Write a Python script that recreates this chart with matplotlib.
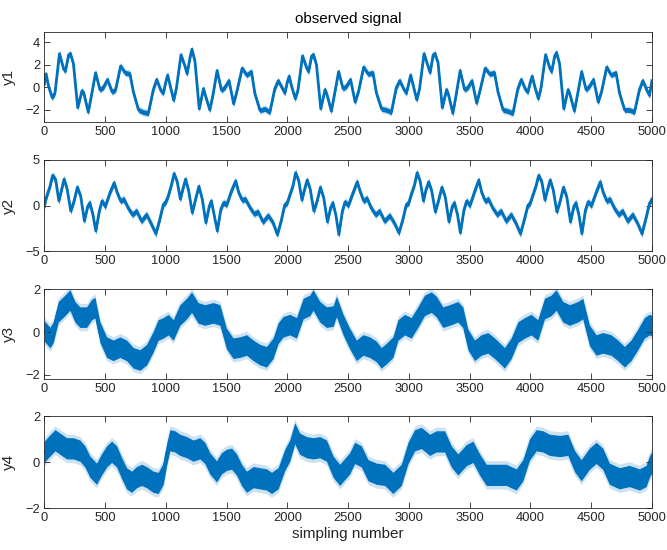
import matplotlib
matplotlib.use("Agg")
import matplotlib.pyplot as plt
import numpy as np

plt.rcParams['font.family'] = ['Liberation Sans', 'DejaVu Sans']

# sample index / value points
y1_t = [0, 15, 35, 65, 88, 125, 160, 175, 200, 215, 240, 275, 310, 325, 362, 390, 422, 458, 486, 520, 558, 587, 628, 665, 705, 733, 775, 815, 856, 897, 925, 960, 980,
        1000, 1015, 1035, 1065, 1088, 1125, 1160, 1175, 1200, 1215, 1240, 1275, 1310, 1325, 1362, 1390, 1422, 1458, 1486, 1520, 1558, 1587, 1628, 1665, 1705, 1733, 1775, 1815, 1856, 1897, 1925, 1960, 1980,
        2000, 2015, 2035, 2065, 2088, 2125, 2160, 2175, 2200, 2215, 2240, 2275, 2310, 2325, 2362, 2390, 2422, 2458, 2486, 2520, 2558, 2587, 2628, 2665, 2705, 2733, 2775, 2815, 2856, 2897, 2925, 2960, 2980,
        3000, 3015, 3035, 3065, 3088, 3125, 3160, 3175, 3200, 3215, 3240, 3275, 3310, 3325, 3362, 3390, 3422, 3458, 3486, 3520, 3558, 3587, 3628, 3665, 3705, 3733, 3775, 3815, 3856, 3897, 3925, 3960, 3980,
        4000, 4015, 4035, 4065, 4088, 4125, 4160, 4175, 4200, 4215, 4240, 4275, 4310, 4325, 4362, 4390, 4422, 4458, 4486, 4520, 4558, 4587, 4628, 4665, 4705, 4733, 4775, 4815, 4856, 4897, 4925, 4960, 4980, 5000]
y1_v = [0.3, 1.2, 0.1, -0.9, -0.5, 3.0, 1.6, 1.5, 2.9, 3.0, 2.1, -1.8, -0.3, -0.5, -2.2, -0.6, 1.3, -0.2, 0.0, 0.7, -0.4, -0.2, 1.9, 1.3, 1.2, -0.4, -2.0, -2.2, -2.3, -0.2, 0.7, -0.3, -0.5,
        0.5, 1.1, 0.2, -1.15, 0.0, 2.9, 1.8, 1.2, 2.7, 3.4, 2.3, -1.9, -0.1, -0.7, -2.0, -0.55, 1.5, -0.25, 0.0, 0.6, -1.45, -0.25, 1.7, 1.1, 1.4, -0.55, -2.05, -1.9, -2.2, -0.1, 0.6, -0.1, -0.5,
        0.5, 1.0, 0.1, -1.0, -0.2, 2.8, 1.7, 1.4, 2.8, 2.9, 2.0, -1.9, -0.2, -0.6, -2.1, -0.5, 1.4, -0.1, 0.1, 0.7, -1.3, -0.3, 1.8, 1.2, 1.3, -0.5, -1.9, -2.0, -2.2, 0.0, 0.6, -0.2, -0.5,
        0.4, 1.1, 0.2, -1.1, -0.1, 3.0, 1.8, 1.3, 2.9, 3.0, 2.2, -1.8, -0.2, -0.6, -2.3, -0.6, 1.5, -0.2, 0.0, 0.6, -1.4, -0.2, 1.7, 1.2, 1.3, -0.4, -2.0, -2.1, -2.3, -0.1, 0.7, -0.2, -0.4,
        0.5, 1.0, 0.1, -1.0, 0.0, 2.9, 1.7, 1.4, 2.8, 3.1, 2.1, -1.9, -0.2, -0.6, -2.1, -0.5, 1.4, -0.2, 0.1, 0.7, -1.3, -0.3, 1.8, 1.1, 1.3, -0.5, -2.0, -2.0, -2.2, -0.2, 0.6, -0.3, -0.7, 0.6]

y2_t = [0, 19, 47, 68, 94, 120, 140, 163, 188, 218, 245, 272, 300, 330, 357, 375, 400, 424, 453, 475, 502, 540, 575, 600, 628, 655, 691, 726, 759, 800, 842, 883, 918, 951, 979,
        1000, 1019, 1047, 1068, 1094, 1120, 1140, 1163, 1188, 1218, 1245, 1272, 1300, 1330, 1357, 1375, 1400, 1424, 1453, 1475, 1502, 1540, 1575, 1600, 1628, 1655, 1691, 1726, 1759, 1800, 1842, 1883, 1918, 1951, 1979,
        2000, 2019, 2047, 2068, 2094, 2120, 2140, 2163, 2188, 2218, 2245, 2272, 2300, 2330, 2357, 2375, 2400, 2424, 2453, 2475, 2502, 2540, 2575, 2600, 2628, 2655, 2691, 2726, 2759, 2800, 2842, 2883, 2918, 2951, 2979,
        3000, 3019, 3047, 3068, 3094, 3120, 3140, 3163, 3188, 3218, 3245, 3272, 3300, 3330, 3357, 3375, 3400, 3424, 3453, 3475, 3502, 3540, 3575, 3600, 3628, 3655, 3691, 3726, 3759, 3800, 3842, 3883, 3918, 3951, 3979,
        4000, 4019, 4047, 4068, 4094, 4120, 4140, 4163, 4188, 4218, 4245, 4272, 4300, 4330, 4357, 4375, 4400, 4424, 4453, 4475, 4502, 4540, 4575, 4600, 4628, 4655, 4691, 4726, 4759, 4800, 4842, 4883, 4918, 4951, 4979, 5000]
y2_v = [-0.1, 1.0, 2.1, 3.3, 2.8, 0.5, 1.6, 2.9, 1.8, -0.6, 0.5, 2.0, 1.0, -1.7, -0.1, 0.3, -1.0, -2.8, -0.6, 0.5, -0.1, 1.4, 2.5, 1.4, 0.5, 0.7, -0.3, -1.0, -0.6, -1.7, -1.0, -2.1, -3.1, -1.5, 0.1,
        0.4, 1.0, 2.3, 3.5, 2.6, 0.7, 1.8, 2.9, 1.6, -0.8, 0.7, 2.1, 0.7, -1.9, -0.1, 0.5, -1.2, -2.8, -0.4, 0.3, 0.1, 1.6, 2.7, 1.4, 0.6, 0.7, -0.2, -0.9, -0.7, -1.8, -1.1, -1.9, -3.2, -1.6, 0.1,
        0.3, 1.1, 2.2, 3.6, 2.7, 0.6, 1.7, 2.8, 1.8, -0.6, 0.5, 2.0, 0.8, -1.8, -0.2, 0.3, -1.1, -3.2, -0.6, 0.4, 0.0, 1.4, 2.6, 1.5, 0.5, 0.8, -0.3, -1.0, -0.6, -1.7, -1.1, -2.0, -3.0, -1.5, 0.1,
        0.3, 1.2, 2.3, 3.6, 2.6, 0.5, 1.7, 2.6, 1.6, -0.7, 0.6, 2.0, 0.9, -1.8, -0.1, 0.3, -1.0, -3.0, -0.5, 0.5, 0.0, 1.5, 2.8, 1.4, 0.5, 0.7, -0.3, -1.0, -0.6, -1.7, -1.0, -2.0, -3.1, -1.5, 0.0,
        0.3, 1.1, 2.2, 3.3, 2.6, 0.6, 1.7, 2.8, 1.7, -0.7, 0.5, 2.0, 0.9, -1.8, -0.1, 0.3, -1.1, -3.1, -0.5, 0.4, 0.0, 1.4, 2.6, 1.4, 0.5, 0.7, -0.3, -1.0, -0.6, -1.7, -1.0, -2.0, -3.1, -1.4, 0.2, 0.7]

y3_t = [0, 47, 74, 115, 170, 211, 252, 293, 348, 389, 417, 458, 513, 567, 622, 677, 732, 787, 842, 896, 937, 979,
        1020, 1061, 1116, 1171, 1212, 1266, 1321, 1390, 1445, 1499, 1554, 1609, 1664, 1719, 1774, 1828, 1883, 1924, 1965,
        2020, 2075, 2130, 2185, 2212, 2267, 2322, 2377, 2404, 2459, 2513, 2568, 2623, 2677, 2732, 2773, 2815, 2869, 2910, 2965,
        3019, 3074, 3129, 3184, 3225, 3280, 3335, 3403, 3444, 3486, 3541, 3595, 3650, 3705, 3760, 3787, 3842, 3897, 3952,
        4006, 4061, 4116, 4171, 4212, 4267, 4322, 4390, 4431, 4486, 4541, 4595, 4664, 4719, 4774, 4828, 4883, 4938, 4979, 5000]
y3_v = [0.05, -0.25, 0.0, 0.95, 1.25, 1.5, 0.95, 0.7, 0.7, 1.05, 1.15, 0.0, -0.7, -0.85, -0.7, -0.85, -1.2, -1.3, -1.05, -0.45, 0.1, 0.2,
        0.35, 0.1, 0.8, 1.1, 1.4, 0.9, 0.8, 0.9, 0.8, -0.3, -0.75, -0.7, -0.6, -0.85, -1.05, -1.15, -0.75, -0.05, 0.25,
        0.35, 0.2, 1.1, 1.25, 1.5, 0.95, 0.7, 0.75, 1.2, 0.35, -0.3, -0.85, -0.6, -0.7, -0.9, -1.2, -1.0, -0.7, 0.1, 0.35,
        0.2, 0.7, 1.25, 1.4, 1.2, 0.7, 0.8, 0.95, 0.7, -0.35, -0.85, -0.6, -0.5, -0.75, -1.05, -1.2, -0.75, 0.0, 0.2,
        0.35, 0.1, 1.1, 1.25, 1.5, 0.95, 0.8, 0.95, 1.1, -0.15, -0.6, -0.5, -0.6, -0.85, -1.15, -0.85, -0.35, 0.2, 0.35, 0.3]

y4_t = [0, 33, 88, 129, 184, 238, 293, 334, 376, 430, 471, 513, 554, 595, 636, 677, 718, 759, 800, 842, 896, 937, 979,
        1006, 1033, 1075, 1116, 1171, 1225, 1280, 1321, 1362, 1417, 1458, 1499, 1541, 1582, 1623, 1664, 1719, 1774, 1828, 1870, 1924, 1979,
        2020, 2061, 2102, 2157, 2212, 2267, 2322, 2377, 2431, 2513, 2554, 2609, 2664, 2732, 2801, 2869, 2938,
        2993, 3048, 3103, 3171, 3225, 3294, 3349, 3403, 3472, 3527, 3582, 3637, 3719, 3801, 3883, 3938,
        3993, 4048, 4103, 4157, 4240, 4308, 4363, 4418, 4486, 4541, 4595, 4650, 4732, 4814, 4897, 4952, 4979, 5000]
y4_v = [0.45, 0.65, 0.95, 0.8, 0.6, 0.6, 0.5, 0.25, -0.2, -0.5, -0.1, 0.25, 0.45, 0.25, -0.25, -0.7, -0.85, -0.65, -0.55, -0.65, -0.85, -0.9, -0.5,
        0.3, 0.95, 0.9, 0.75, 0.65, 0.5, 0.6, 0.4, -0.05, -0.4, -0.05, 0.1, 0.15, -0.1, -0.55, -0.85, -0.65, -0.7, -0.75, -0.9, -0.7, 0.1,
        0.5, 1.25, 0.8, 0.65, 0.6, 0.65, 0.5, -0.2, -0.55, -0.05, 0.4, 0.25, -0.35, -0.5, -0.55, -0.9, -0.55,
        0.4, 0.95, 1.05, 0.75, 0.9, 0.9, 0.25, -0.1, 0.3, 0.45, -0.1, -0.55, -0.55, -0.55, -0.75, -0.35,
        0.55, 0.95, 0.9, 0.75, 0.7, 0.75, 0.05, -0.35, 0.15, 0.4, 0.15, -0.5, -0.7, -0.6, -0.75, -0.6, -0.2, 0.0]

names = ['y1', 'y2', 'y3', 'y4']
ylims = [(-3.1, 4.95), (-5, 5), (-2.2, 2), (-2, 2)]
yticks = [[-2, 0, 2, 4], [-5, 0, 5], [-2, 0, 2], [-2, 0, 2]]
# noise band half widths (dense core, sparse spikes) and line width
bands = [(0.22, 0.36), (0.3, 0.5), (0.48, 0.64), (0.46, 0.62)]
line_w = [2.0, 2.0, 2.4, 2.4]
xticks = np.arange(0, 5001, 500)

series = [(y1_t, y1_v), (y2_t, y2_v), (y3_t, y3_v), (y4_t, y4_v)]
blue = '#0072BD'
dark = '#262626'

fig = plt.figure(figsize=(6.67, 5.5), dpi=100)
bottoms = [0.7776, 0.5436, 0.3104, 0.0758]
heights = [0.1647, 0.1655, 0.1636, 0.1678]

for i, (t, v) in enumerate(series):
    ax = fig.add_axes([0.0664, bottoms[i], 0.911, heights[i]])
    t = np.array(t)
    v = np.array(v)
    w_in, w_out = bands[i]
    ax.fill_between(t, v - w_out, v + w_out, color=blue, alpha=0.2, lw=0)
    ax.fill_between(t, v - w_in, v + w_in, color=blue, alpha=1.0, lw=0)
    ax.plot(t, v, color=blue, lw=line_w[i], solid_joinstyle='round')
    ax.set_xlim(0, 5000)
    ax.set_ylim(*ylims[i])
    ax.set_xticks(xticks)
    ax.set_yticks(yticks[i])
    ax.tick_params(direction='in', top=True, right=True, length=4, width=0.6,
                   labelsize=9.3, colors=dark, pad=3)
    for s in ax.spines.values():
        s.set_color(dark)
        s.set_linewidth(0.6)
    ax.set_ylabel(names[i], fontsize=11, color=dark)
    ax.yaxis.set_label_coords(-0.047, 0.5)
    if i == 0:
        ax.set_title('observed signal', fontsize=11, color='black', pad=6)
    if i == 3:
        ax.set_xlabel('simpling number', fontsize=11, color=dark, labelpad=2)

fig.savefig('out.png', dpi=100)
